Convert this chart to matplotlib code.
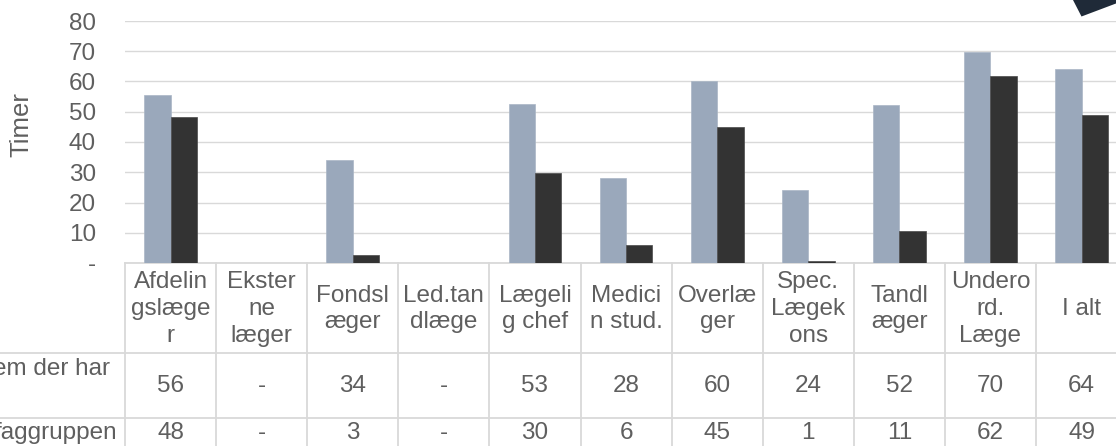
import matplotlib
matplotlib.use("Agg")
import matplotlib.pyplot as plt
from matplotlib.transforms import blended_transform_factory
from matplotlib.patches import Polygon
import numpy as np

plt.rcParams['font.family'] = ['Liberation Sans', 'DejaVu Sans']

categories = ["Afdelin\ngslæge\nr", "Ekster\nne\nlæger", "Fondsl\næger", "Led.tan\ndlæge",
              "Lægeli\ng chef", "Medici\nn stud.", "Overlæ\nger", "Spec.\nLægek\nons",
              "Tandl\næger", "Undero\nrd.\nLæge", "I alt"]
series_a = [55.6, 0, 34.2, 0, 52.6, 28.1, 60.3, 24.1, 52.1, 69.6, 64.1]
series_b = [48.2, 0, 2.8, 0, 29.6, 5.8, 45.1, 0.8, 10.7, 61.8, 48.9]
row_labels = ["em der har", "faggruppen"]
yticks = [0, 10, 20, 30, 40, 50, 60, 70, 80]
ytick_labels = ["-", "10", "20", "30", "40", "50", "60", "70", "80"]
ylabel = "Timer"

W, H = 1116, 446
col_w = 91.1
x0 = 125
y_top, y_zero = 21, 263
txt = '#5f5f5f'
grid_c = '#d9d9d9'
col_a = '#9aa8bb'
col_b = '#333333'
fs = 17.5

fig = plt.figure(figsize=(W / 100, H / 100), dpi=100)
ax = fig.add_axes([x0 / W, (H - y_zero) / H, len(categories) * col_w / W, (y_zero - y_top) / H])
tab = fig.add_axes([0, 0, 1, 1], zorder=-1)
tab.set_xlim(0, W)
tab.set_ylim(H, 0)
tab.axis('off')

n = len(categories)
x = np.arange(n)
bw = 0.29
ax.bar(x - bw / 2, series_a, bw, color=col_a, edgecolor='#aab6c6', linewidth=0.5, zorder=3)
ax.bar(x + bw / 2, series_b, bw, color=col_b, edgecolor='#4a4a4a', linewidth=0.5, zorder=3)
ax.set_xlim(-0.5, n - 0.5)
ax.set_ylim(0, 80)
for s in ax.spines.values():
    s.set_visible(False)
ax.set_yticks(yticks)
ax.set_yticklabels(ytick_labels)
ax.set_xticks([])
ax.tick_params(axis='y', length=0, pad=21, labelsize=fs, labelcolor=txt)
ax.yaxis.grid(True, color=grid_c, linewidth=1.0, zorder=0)
ax.set_axisbelow(True)
ax.set_facecolor('none')

fig.text(21 / W, 1 - 125 / H, ylabel, rotation=90, ha='center', va='center',
         fontsize=18.5, color=txt)

# data table
bt = blended_transform_factory(ax.transData, tab.transData)
hdr_top, r1_top, r2_top, r2_bot = 263, 353, 418, 450
edges = np.arange(n + 1) - 0.5
for e in edges:
    tab.plot([e, e], [hdr_top, r2_bot], transform=bt, color=grid_c, lw=1.3, clip_on=False)
tab.plot([-0.5, n - 0.5], [hdr_top, hdr_top], transform=bt, color=grid_c, lw=1.3, clip_on=False)
for yy in (r1_top, r2_top):
    tab.plot([0, W], [yy, yy], color=grid_c, lw=1.3, clip_on=False)

for i, c in enumerate(categories):
    tab.text(i, (hdr_top + r1_top) / 2 + 1, c, transform=bt, ha='center', va='center',
             fontsize=fs, color=txt, linespacing=1.27, multialignment='center')
    va = series_a[i]
    vb = series_b[i]
    tab.text(i, 386, str(int(round(va))) if va else "-", transform=bt, ha='center',
             va='center', fontsize=fs, color=txt)
    tab.text(i, 433, str(int(round(vb))) if vb else "-", transform=bt, ha='center',
             va='center', fontsize=fs, color=txt)

tab.text(110, 369, row_labels[0], ha='right', va='center', fontsize=fs, color=txt)
tab.text(117, 433, row_labels[1], ha='right', va='center', fontsize=fs, color=txt)

# decorative dark shape top right
tab.add_patch(Polygon([(1073, 0), (1081.5, 16.5), (1116, 3.5), (1116, 0)], closed=True,
                      facecolor='#1f2a38', edgecolor='none'))

fig.savefig("out.png", dpi=100)
